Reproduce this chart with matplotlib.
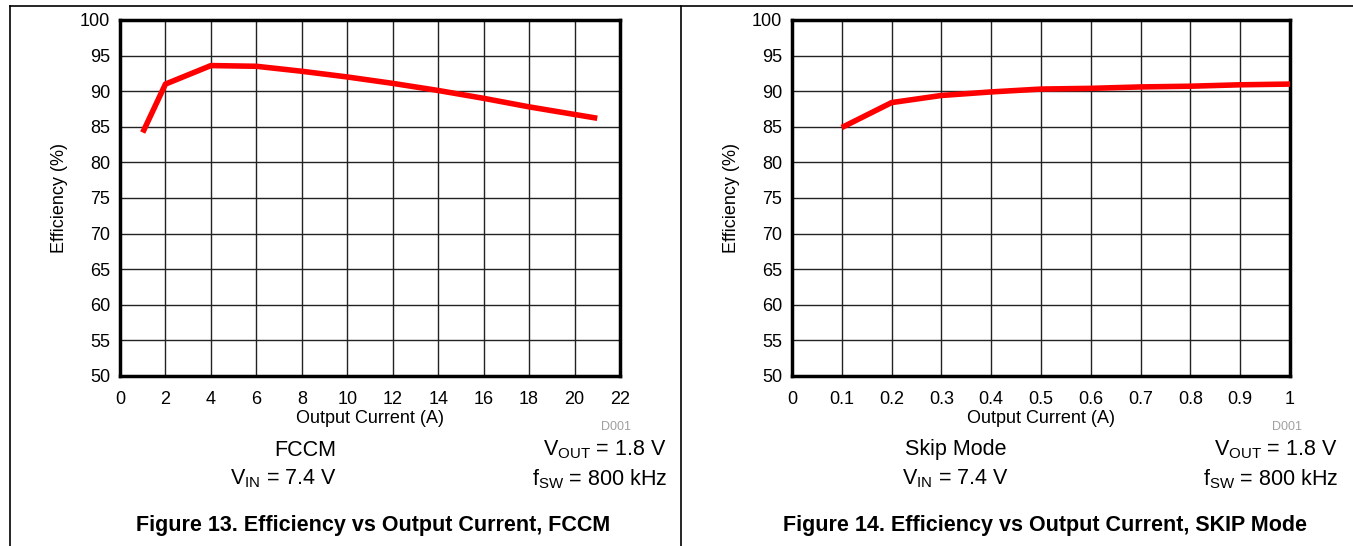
import matplotlib
matplotlib.use("Agg")
import matplotlib.pyplot as plt
from matplotlib.lines import Line2D

plt.rcParams['font.family'] = ['Liberation Sans', 'DejaVu Sans']
plt.rcParams['mathtext.fontset'] = 'custom'
plt.rcParams['mathtext.rm'] = 'Liberation Sans'
plt.rcParams['mathtext.it'] = 'Liberation Sans'

# FCCM efficiency
fccm_current = [1, 2, 4, 6, 8, 10, 12, 14, 16, 18, 21]
fccm_eff = [84.2, 91.0, 93.6, 93.5, 92.8, 92.0, 91.1, 90.1, 89.0, 87.8, 86.2]

# Skip mode efficiency
skip_current = [0.1, 0.2, 0.3, 0.4, 0.5, 0.6, 0.7, 0.8, 0.9, 1.0]
skip_eff = [84.9, 88.4, 89.4, 89.9, 90.3, 90.4, 90.6, 90.7, 90.9, 91.0]

fccm_xticks = list(range(0, 23, 2))
skip_xticks = [0, 0.1, 0.2, 0.3, 0.4, 0.5, 0.6, 0.7, 0.8, 0.9, 1]
skip_xlabels = ["0", "0.1", "0.2", "0.3", "0.4", "0.5", "0.6", "0.7", "0.8", "0.9", "1"]
yticks = list(range(50, 101, 5))

W, H = 1353, 546
fig = plt.figure(figsize=(W / 100, H / 100), dpi=100)


def fx(px):
    return px / W


def fy(py):
    return 1 - py / H


def panel(ax_left, ax_right, x, y, xticks, xlabels, xlim, mode, mode_x, vin_x, right_x, title, title_x):
    ax = fig.add_axes([fx(ax_left), fy(376), fx(ax_right - ax_left), (376 - 20) / H])
    ax.plot(x, y, color="#ff0000", lw=4, solid_capstyle="butt", zorder=3)
    ax.set_xlim(*xlim)
    ax.set_ylim(50, 100)
    ax.set_xticks(xticks)
    ax.set_xticklabels(xlabels)
    ax.set_yticks(yticks)
    ax.grid(True, color="#222222", lw=1.0)
    ax.tick_params(axis="both", length=0, labelsize=13)
    ax.tick_params(axis="x", pad=11)
    ax.tick_params(axis="y", pad=7)
    for s in ax.spines.values():
        s.set_linewidth(2.5)
    ax.set_xlabel("Output Current (A)", fontsize=13, labelpad=1)
    ax.set_ylabel("Efficiency (%)", fontsize=13, labelpad=9)

    fig.text(fx(right_x - 36), fy(427), "D001", fontsize=9, color="#a0a0a0", ha="right", va="center")
    fig.text(fx(mode_x), fy(450), mode, fontsize=15.5, ha="center", va="center")
    fig.text(fx(vin_x), fy(479), r"V$_{\mathrm{IN}}$ = 7.4 V", fontsize=15.5, ha="center", va="center")
    fig.text(fx(right_x), fy(450), r"V$_{\mathrm{OUT}}$ = 1.8 V", fontsize=15.5, ha="right", va="center")
    fig.text(fx(right_x), fy(479), r"f$_{\mathrm{SW}}$ = 800 kHz", fontsize=15.5, ha="right", va="center")
    fig.text(fx(title_x), fy(526), title, fontsize=15.5, fontweight="bold", ha="center", va="center")
    return ax


panel(120, 620, fccm_current, fccm_eff, fccm_xticks, [str(v) for v in fccm_xticks], (0, 22),
      "FCCM", 305, 283, 667, "Figure 13. Efficiency vs Output Current, FCCM", 373)
panel(792, 1290, skip_current, skip_eff, skip_xticks, skip_xlabels, (0, 1),
      "Skip Mode", 956, 955, 1338, "Figure 14. Efficiency vs Output Current, SKIP Mode", 1045)

# page frame lines
fig.add_artist(Line2D([fx(10), 1], [fy(6), fy(6)], color="black", lw=1.2))
fig.add_artist(Line2D([fx(10), fx(10)], [fy(6), 0], color="black", lw=1.2))
fig.add_artist(Line2D([fx(681), fx(681)], [fy(6), 0], color="black", lw=1.2))

fig.savefig("out.png", dpi=100)
